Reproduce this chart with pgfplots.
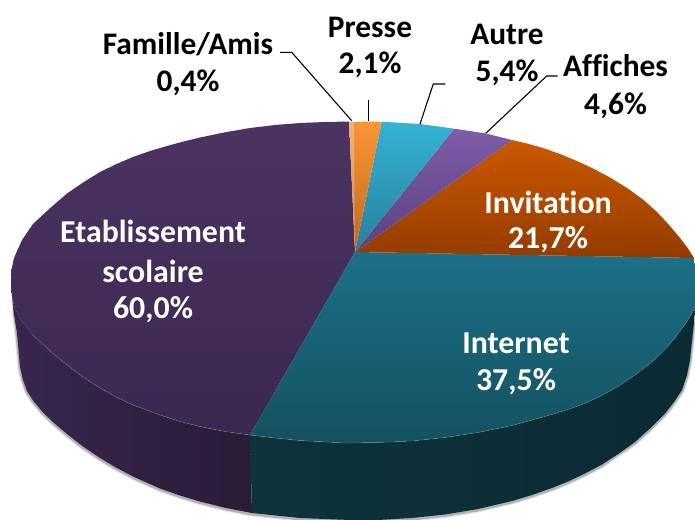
\documentclass[border=0pt]{standalone}
\usepackage{pgfplots}
\pgfplotsset{compat=1.18}
\usepackage{fontspec}
\setmainfont{Carlito}[Ligatures=NoCommon]
\definecolor{pA}{HTML}{4B3362}
\definecolor{pB}{HTML}{3A2851}
\definecolor{tA}{HTML}{1C7088}
\definecolor{tB}{HTML}{14515F}
\definecolor{oA}{HTML}{CC5800}
\definecolor{oB}{HTML}{933C00}
\definecolor{vA}{HTML}{7F5CA8}
\definecolor{vB}{HTML}{5A4280}
\definecolor{cA}{HTML}{35B2D5}
\definecolor{cB}{HTML}{2A7F9C}
\definecolor{gA}{HTML}{FA9535}
\definecolor{gB}{HTML}{C06A20}
\definecolor{sA}{HTML}{F8B078}
\definecolor{sB}{HTML}{C88A55}
\definecolor{wA}{HTML}{38264F}
\definecolor{wB}{HTML}{2A1B36}
\definecolor{wC}{HTML}{0E333C}
\definecolor{wD}{HTML}{07212A}
\definecolor{wE}{HTML}{0B2A33}
\newcommand{\lbl}[3]{\node[font=\fontsize{31.5}{34}\selectfont\bfseries,text=#3,inner sep=0pt] at (axis cs:#1) {#2};}
\newcommand{\wlbl}[2]{\node[font=\fontsize{32}{34}\selectfont\bfseries,text=white,inner sep=0pt] at (axis cs:#1) {#2};}
\begin{document}
\begin{tikzpicture}
\begin{axis}[
  scale only axis, width=695bp, height=520bp,
  xmin=0, xmax=695, ymin=0, ymax=520, y dir=reverse,
  axis lines=none, clip=true,
]
% soft shadow under the wall
\addplot[draw=black, line width=5pt, opacity=.10, forget plot] coordinates {
 (14,310) (17,334) (20,368) (23,381) (27,392) (33,401.5) (43,413.5) (54,424) (67,435) (83,447.5) (100,459) (116,468.5) (133,477.5) (160,489.5) (180,496.5) (200,502.5) (226,509) (252,514) (300,519) (350,521) (378,521) (412,519) (445,515.5) (478,510) (512,502) (532,496) (552,489) (568,482.5) (585,474.5) (602,465.5) (619,454.5) (635,443) (650,429.5) (665,414.5) (674,403) (682,391) (687,376) (690,361) (695,314) };
\addplot[draw=black, line width=3pt, opacity=.22, forget plot] coordinates {
 (14,310) (17,334) (20,368) (23,381) (27,392) (33,401.5) (43,413.5) (54,424) (67,435) (83,447.5) (100,459) (116,468.5) (133,477.5) (160,489.5) (180,496.5) (200,502.5) (226,509) (252,514) (300,519) (350,521) (378,521) (412,519) (445,515.5) (478,510) (512,502) (532,496) (552,489) (568,482.5) (585,474.5) (602,465.5) (619,453.5) (635,443) (650,429.5) (665,414.5) (674,403) (682,391) (687,376) (690,361) (695,314) };
% side walls
\addplot[left color=wA, right color=wB, draw=none, forget plot] coordinates {
 (11,283) (12,296) (15,309) (23,323) (33,335) (50,351) (67,365) (83,377) (100,388) (116,397) (133,405) (160,415) (180,421.5) (200,426.5) (225,431.5) (250,435)
 (252,513) (226,508) (200,501.5) (180,495.5) (160,488.5) (133,476.5) (116,467.5) (100,458) (83,446.5) (67,434) (54,423) (43,412.5) (33,400.5) (27,391) (23,380) (20,367) (17,333) (13,308) } --cycle;
\addplot[left color=wC, middle color=wD, right color=wE, draw=none, forget plot] coordinates {
 (250,435) (275,438) (300,440.5) (345,443) (378,442.5) (412,441) (445,437.5) (478,432.5) (512,425.5) (545,416.5) (565,410.5) (585,403.5) (602,395.5) (618,386.5) (635,375) (652,362) (664,350.5) (675,338) (686,323) (695,308) (697,290)
 (697,310) (695,313) (690,360) (687,375) (682,390) (674,402) (665,413.5) (650,428.5) (635,442) (619,453.5) (602,464.5) (585,473.5) (568,481.5) (552,488) (532,495) (512,501) (478,509) (445,514.5) (412,518) (378,520) (350,520) (300,518) (252,513) } --cycle;
% top faces
\addplot[top color=pA, bottom color=pB, draw=none, forget plot] coordinates {
 (355,252) (250,435) (225,431.5) (200,426.5) (180,421.5) (160,415) (133,405) (116,397) (100,388) (83,377) (67,365) (50,351) (33,335) (23,323) (15,309) (12,296) (11,283) (11.5,270) (14,258) (22,240) (33,224) (50,208.2) (67,193.5) (83.5,182.2) (100,172) (116.5,164) (133,157) (150,151) (167,146) (183.5,141.5) (200,137.5) (225,132.3) (250,128) (275,125) (300,123) (325,122) (349,121.5) } --cycle;
\addplot[top color=tA, bottom color=tB, draw=none, forget plot] coordinates {
 (355,252) (694,258) (697,280) (695,308) (686,323) (675,338) (664,350.5) (652,362) (635,375) (618,386.5) (602,395.5) (585,403.5) (565,410.5) (545,416.5) (512,425.5) (478,432.5) (445,437.5) (412,441) (378,442.5) (345,443) (300,440.5) (275,438) (250,435) } --cycle;
\addplot[top color=oA, bottom color=oB, draw=none, forget plot] coordinates {
 (355,252) (512,140) (527,143.5) (543,148) (560,154) (577,161) (594,169) (610,177.5) (627,188) (643,199.5) (657,212) (670,226) (680,238) (687,247) (694,258) } --cycle;
\addplot[top color=vA, bottom color=vB, draw=none, forget plot] coordinates {
 (355,252) (454.3,128.7) (486,133.5) (512,140) } --cycle;
\addplot[top color=cA, bottom color=cB, draw=none, forget plot] coordinates {
 (355,252) (381.7,121.7) (420,124) (454.3,128.7) } --cycle;
\addplot[top color=gA, bottom color=gB, draw=none, forget plot] coordinates {
 (355,252) (354,122) (368.7,121.5) (381.7,121.7) } --cycle;
\addplot[top color=sA, bottom color=sB, draw=none, forget plot] coordinates {
 (355,252) (349,121.5) (354,122) } --cycle;
% rim highlight
\addplot[draw=white, opacity=.12, line width=.9pt, forget plot] coordinates {
 (33,335) (50,351) (67,365) (83,377) (100,388) (116,397) (133,405) (160,415) (180,421.5) (200,426.5) (225,431.5) (250,435) (275,438) (300,440.5) (345,443) (378,442.5) (412,441) (445,437.5) (478,432.5) (512,425.5) (545,416.5) (565,410.5) (585,403.5) (602,395.5) (618,386.5) (635,375) (652,362) (664,350.5) (675,338) (686,323) (695,308) };
% leader lines
\addplot[black, line width=1.1pt, forget plot] coordinates {(351.7,120.7) (291.7,52.3) (280,52.3)};
\addplot[black, line width=1.1pt, forget plot] coordinates {(368.7,121) (368.7,100)};
\addplot[black, line width=1.1pt, forget plot] coordinates {(420,124) (433.3,84) (445,84)};
\addplot[black, line width=1.1pt, forget plot] coordinates {(485.7,133.3) (546.7,76) (557.7,76)};
% labels
\lbl{188,44}{Famille/Amis}{black}
\lbl{188,83}{0,4\%}{black}
\lbl{370,27}{Presse}{black}
\lbl{370,65}{2,1\%}{black}
\lbl{507,34}{Autre}{black}
\lbl{507,73}{5,4\%}{black}
\lbl{615.5,66}{Affiches}{black}
\lbl{615.5,106}{4,6\%}{black}
\wlbl{548,202}{Invitation}
\wlbl{548,240}{21,7\%}
\wlbl{516,343}{Internet}
\wlbl{516,382}{37,5\%}
\wlbl{153,231}{Etablissement}
\wlbl{153,271}{scolaire}
\wlbl{153,310}{60,0\%}
\end{axis}
\pgfresetboundingbox
\useasboundingbox (0,0) rectangle (695bp,520bp);
\end{tikzpicture}
\end{document}
